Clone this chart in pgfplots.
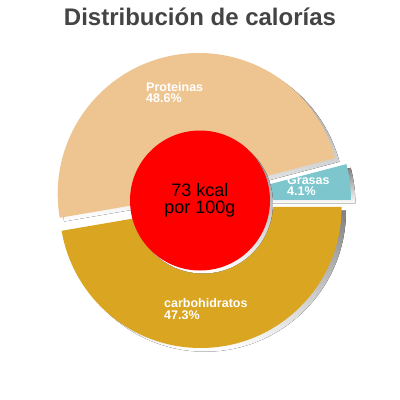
\documentclass[border=0pt]{standalone}
\usepackage{pgfplots}
\pgfplotsset{compat=1.18}
\usepackage{fontspec}
\setmainfont{Liberation Sans}
\definecolor{prot}{RGB}{238,197,145}
\definecolor{carb}{RGB}{218,165,32}
\definecolor{gras}{RGB}{126,198,206}
\definecolor{shade}{RGB}{100,100,100}
\definecolor{titlegray}{RGB}{68,68,68}

% percentages of calories
\def\vcarb{47.3}
\def\vprot{48.6}
\def\vgras{4.1}
\def\R{141bp}

% centre x, centre y, start angle, end angle, fill colour
\newcommand\slice[5]{%
  \fill[#5] (axis cs:#1,#2) -- ++({#3}:\R) arc[start angle={#3}, end angle={#4}, radius=\R] -- cycle;}

\begin{document}
\begin{tikzpicture}
\begin{axis}[
    hide axis,
    scale only axis,
    width=400bp, height=400bp,
    xmin=0, xmax=400, ymin=0, ymax=400,
    clip=false,
]
\coordinate (SW) at (axis cs:0,0);
\coordinate (NE) at (axis cs:400,400);
% shadows
\slice{205}{189.3}{0}{-\vcarb*3.6}{shade}
\slice{203.1}{202.3}{-\vcarb*3.6}{-(\vcarb+\vprot)*3.6}{shade}
\slice{214.4}{196.3}{-(\vcarb+\vprot)*3.6}{-360}{shade}
% slices
\slice{200.6}{193}{0}{-\vcarb*3.6}{carb}
\slice{198.7}{206}{-\vcarb*3.6}{-(\vcarb+\vprot)*3.6}{prot}
\slice{210}{200}{-(\vcarb+\vprot)*3.6}{-360}{gras}
% centre disc
\fill[shade] (axis cs:203,196.5) circle[radius=70bp];
\fill[red] (axis cs:200,199.5) circle[radius=70bp];
\node[anchor=base, inner sep=0, text=titlegray, font=\fontsize{24bp}{28bp}\selectfont\bfseries]
  at (axis cs:200,375) {Distribución de calorías};
\node[anchor=base, inner sep=0, font=\fontsize{18bp}{20bp}\selectfont] at (axis cs:200,204) {73 kcal};
\node[anchor=base, inner sep=0, font=\fontsize{18bp}{20bp}\selectfont] at (axis cs:200,187) {por 100g};
\begin{scope}[every node/.style={anchor=base west, inner sep=0, text=white, font=\fontsize{12.5bp}{13bp}\selectfont\bfseries}]
\node at (axis cs:146,309) {Proteinas};
\node at (axis cs:146,298) {48.6\%};
\node at (axis cs:287,216) {Grasas};
\node at (axis cs:287,205) {4.1\%};
\node at (axis cs:164,93) {carbohidratos};
\node at (axis cs:164,81) {47.3\%};
\end{scope}
\end{axis}
\pgfresetboundingbox
\path (SW) rectangle (NE);
\end{tikzpicture}
\end{document}
